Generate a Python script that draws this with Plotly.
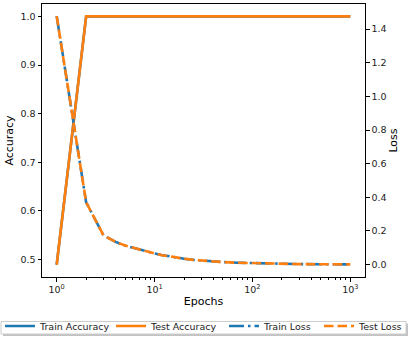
import plotly.graph_objects as go

epochs = [1, 2, 3, 4, 5, 6, 7, 8, 10, 12, 15, 20, 25, 30, 40, 50, 70, 100,
          150, 200, 300, 500, 700, 1000]
train_acc = [0.489] + [1.0] * 23
test_acc = [0.489] + [1.0] * 23
train_loss = [1.477, 0.37, 0.175, 0.135, 0.113, 0.100, 0.088, 0.079, 0.066,
              0.056, 0.046, 0.035, 0.028, 0.024, 0.018, 0.015, 0.011, 0.008,
              0.005, 0.004, 0.003, 0.002, 0.001, 0.001]
test_loss = list(train_loss)

x_tickvals = [1, 10, 100, 1000]
x_ticktext = ["10<sup>0</sup>", "10<sup>1</sup>", "10<sup>2</sup>", "10<sup>3</sup>"]
minor_vals = [m * d for d in (1, 10, 100) for m in range(2, 10)]
acc_ticks = [0.5, 0.6, 0.7, 0.8, 0.9, 1.0]
loss_ticks = [0.0, 0.2, 0.4, 0.6, 0.8, 1.0, 1.2, 1.4]

BLUE = "#1f77b4"
ORANGE = "#ff7f0e"
LW = 2.6
FONT = "DejaVu Sans"

W, H = 409, 341
ML, MR, MT, MB = 42, 44, 4, 64
PW, PH = W - ML - MR, H - MT - MB


def px_to_paper_x(px):
    return (px - ML) / PW


def px_to_paper_y(py):
    return (H - MB - py) / PH


fig = go.Figure()
fig.add_trace(go.Scatter(x=epochs, y=train_acc, mode="lines", name="Train Accuracy",
                         legend="legend",
                         line=dict(color=BLUE, width=LW)))
fig.add_trace(go.Scatter(x=epochs, y=test_acc, mode="lines", name="Test Accuracy",
                         legend="legend2",
                         line=dict(color=ORANGE, width=LW)))
fig.add_trace(go.Scatter(x=epochs, y=train_loss, mode="lines", name="Train Loss",
                         yaxis="y2", legend="legend3",
                         line=dict(color=BLUE, width=LW, dash="15px,4px,2.5px,4px")))
fig.add_trace(go.Scatter(x=epochs, y=test_loss, mode="lines", name="Test Loss",
                         yaxis="y2", legend="legend4",
                         line=dict(color=ORANGE, width=LW, dash="9.5px,4px")))

axis_common = dict(showline=True, linecolor="black", linewidth=1, ticks="outside",
                   ticklen=3.5, tickwidth=1, tickcolor="black", showgrid=False,
                   zeroline=False, tickfont=dict(family=FONT, size=9.5, color="#222"))

# legend frame (decoration) with shadow
fx0, fx1 = px_to_paper_x(1), px_to_paper_x(406)
fy0, fy1 = px_to_paper_y(334), px_to_paper_y(321.5)
sx, sy = 2 / PW, 2 / PH
shapes = [
    dict(type="rect", xref="paper", yref="paper", x0=fx0 + sx, x1=fx1 + sx,
         y0=fy0 - sy, y1=fy1 - sy, line=dict(width=0), fillcolor="rgba(120,120,120,0.45)",
         layer="below"),
    dict(type="rect", xref="paper", yref="paper", x0=fx0, x1=fx1, y0=fy0, y1=fy1,
         line=dict(color="#cccccc", width=1), fillcolor="white", layer="below"),
]

legend_starts = [-5, 111, 224, 319]
legends = {}
for i, s in enumerate(legend_starts):
    key = "legend" if i == 0 else f"legend{i + 1}"
    legends[key] = dict(orientation="h", xref="container", yref="container",
                        x=s / W, xanchor="left",
                        y=(H - 326) / H, yanchor="middle",
                        borderwidth=0, bgcolor="rgba(0,0,0,0)",
                        font=dict(family=FONT, size=9.5, color="#222"),
                        itemwidth=30)

fig.update_layout(
    width=W, height=H,
    margin=dict(l=ML, r=MR, t=MT, b=MB, autoexpand=False),
    paper_bgcolor="white", plot_bgcolor="white",
    font=dict(family=FONT, size=9.5, color="black"),
    xaxis=dict(type="log", range=[-0.15, 3.15], tickmode="array",
               tickvals=x_tickvals, ticktext=x_ticktext, mirror=True,
               title=dict(text="Epochs", font=dict(family=FONT, size=11), standoff=3),
               minor=dict(tickmode="array", tickvals=minor_vals, ticks="outside",
                          ticklen=2, tickwidth=0.8, tickcolor="black", showgrid=False),
               **axis_common),
    yaxis=dict(range=[0.4638, 1.0255], tickmode="array", tickvals=acc_ticks,
               ticktext=[f"{v:.1f}" for v in acc_ticks],
               title=dict(text="Accuracy", font=dict(family=FONT, size=11), standoff=4),
               **axis_common),
    yaxis2=dict(range=[-0.0738, 1.549], overlaying="y", side="right",
                tickmode="array", tickvals=loss_ticks,
                ticktext=[f"{v:.1f}" for v in loss_ticks],
                title=dict(text="Loss", font=dict(family=FONT, size=11), standoff=2),
                **axis_common),
    shapes=shapes,
    showlegend=True,
    **legends,
)

fig.write_html("out.html", config={"displayModeBar": False},
               post_script="document.body.style.margin='0';document.body.style.padding='0';")
